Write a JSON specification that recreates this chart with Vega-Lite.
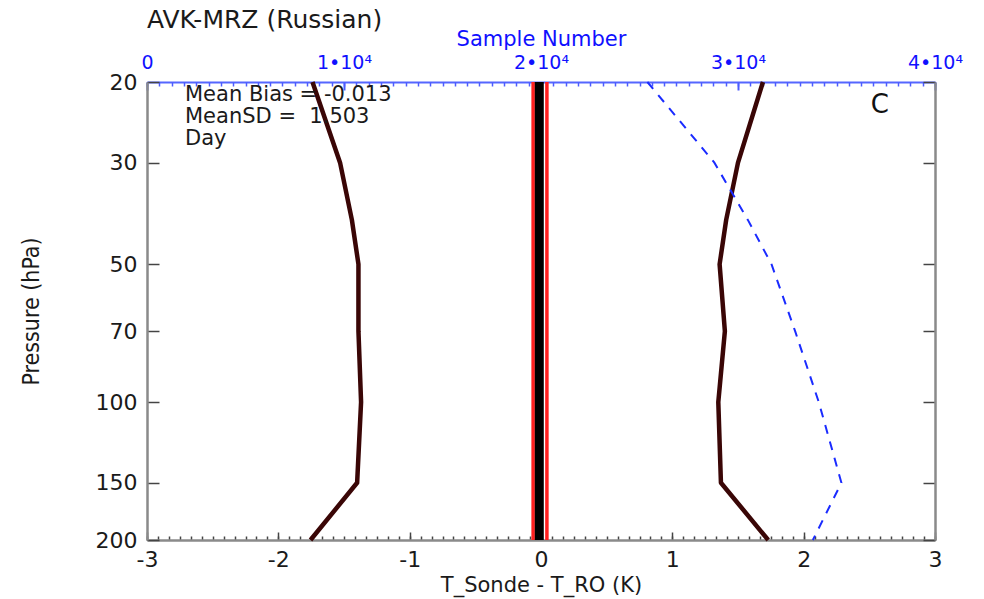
{
  "$schema": "https://vega.github.io/schema/vega-lite/v6.json",
  "width": 788,
  "height": 458,
  "autosize": {"type": "none"},
  "padding": {"left": 147, "top": 82, "right": 49, "bottom": 59},
  "background": "white",
  "title": {
    "text": "AVK-MRZ (Russian)",
    "anchor": "start",
    "frame": "group",
    "font": "DejaVu Sans",
    "fontSize": 25,
    "fontWeight": "normal",
    "color": "#1a1a1a",
    "baseline": "alphabetic",
    "offset": -25
  },
  "config": {
    "view": {"stroke": null},
    "axis": {
      "grid": false,
      "labelFont": "DejaVu Sans",
      "titleFont": "DejaVu Sans",
      "titleFontWeight": "normal",
      "labelFlush": false,
      "labelOverlap": false,
      "labelBound": false
    }
  },
  "datasets": {
    "band": [
      {"edge": "lower", "p": 20, "dT": -0.06},
      {"edge": "lower", "p": 200, "dT": -0.06},
      {"edge": "upper", "p": 20, "dT": 0.045},
      {"edge": "upper", "p": 200, "dT": 0.045}
    ],
    "mean_bias": [
      {"p": 20, "dT": -0.013},
      {"p": 200, "dT": -0.013}
    ],
    "sd": [
      {"side": "minus", "p": 20, "dT": -1.74},
      {"side": "minus", "p": 30, "dT": -1.53},
      {"side": "minus", "p": 40, "dT": -1.44},
      {"side": "minus", "p": 50, "dT": -1.39},
      {"side": "minus", "p": 70, "dT": -1.39},
      {"side": "minus", "p": 100, "dT": -1.37},
      {"side": "minus", "p": 150, "dT": -1.40},
      {"side": "minus", "p": 200, "dT": -1.755},
      {"side": "plus", "p": 20, "dT": 1.69},
      {"side": "plus", "p": 30, "dT": 1.50},
      {"side": "plus", "p": 40, "dT": 1.41},
      {"side": "plus", "p": 50, "dT": 1.36},
      {"side": "plus", "p": 70, "dT": 1.40},
      {"side": "plus", "p": 100, "dT": 1.35},
      {"side": "plus", "p": 150, "dT": 1.37},
      {"side": "plus", "p": 200, "dT": 1.73}
    ],
    "samples": [
      {"p": 20, "n": 25400},
      {"p": 30, "n": 28800},
      {"p": 40, "n": 30500},
      {"p": 50, "n": 31700},
      {"p": 70, "n": 32900},
      {"p": 100, "n": 34100},
      {"p": 150, "n": 35250},
      {"p": 200, "n": 33800}
    ]
  },
  "layer": [
    {
      "data": {"name": "band"},
      "mark": {"type": "line", "color": "#ff2020", "strokeWidth": 3.5},
      "encoding": {
        "x": {
          "field": "dT", "type": "quantitative",
          "scale": {"domain": [-3, 3], "nice": false, "zero": false},
          "axis": {
            "orient": "bottom",
            "values": [-3, -2.9167, -2.8333, -2.75, -2.6667, -2.5833, -2.5, -2.4167, -2.3333, -2.25, -2.1667, -2.0833,
                       -2, -1.9167, -1.8333, -1.75, -1.6667, -1.5833, -1.5, -1.4167, -1.3333, -1.25, -1.1667, -1.0833,
                       -1, -0.9167, -0.8333, -0.75, -0.6667, -0.5833, -0.5, -0.4167, -0.3333, -0.25, -0.1667, -0.0833,
                       0, 0.0833, 0.1667, 0.25, 0.3333, 0.4167, 0.5, 0.5833, 0.6667, 0.75, 0.8333, 0.9167,
                       1, 1.0833, 1.1667, 1.25, 1.3333, 1.4167, 1.5, 1.5833, 1.6667, 1.75, 1.8333, 1.9167,
                       2, 2.0833, 2.1667, 2.25, 2.3333, 2.4167, 2.5, 2.5833, 2.6667, 2.75, 2.8333, 2.9167, 3],
            "labels": false,
            "domain": false,
            "tickSize": -4,
            "tickColor": "#444444",
            "tickWidth": 1.5,
            "title": null
          }
        },
        "y": {
          "field": "p", "type": "quantitative",
          "scale": {"type": "log", "domain": [20, 200], "reverse": true, "nice": false},
          "axis": {
            "orient": "right",
            "values": [20, 30, 50, 70, 100, 150, 200],
            "labels": false,
            "tickSize": -12,
            "tickColor": "#444444",
            "tickWidth": 1.5,
            "domainColor": "#8a8a8a",
            "domainWidth": 2.5,
            "title": null
          }
        },
        "detail": {"field": "edge"},
        "order": {"field": "p", "type": "quantitative"}
      }
    },
    {
      "data": {"name": "mean_bias"},
      "mark": {"type": "line", "color": "#000000", "strokeWidth": 9},
      "encoding": {
        "x": {
          "field": "dT", "type": "quantitative",
          "scale": {"domain": [-3, 3], "nice": false, "zero": false},
          "axis": {
            "orient": "bottom",
            "values": [-3, -2, -1, 0, 1, 2, 3],
            "labelExpr": "'' + datum.value",
            "tickSize": -8,
            "tickColor": "#444444",
            "tickWidth": 1.5,
            "domainColor": "#8a8a8a",
            "domainWidth": 2.5,
            "labelFontSize": 22,
            "labelColor": "#1a1a1a",
            "labelPadding": 17,
            "title": "T_Sonde - T_RO (K)",
            "titleFontSize": 21,
            "titleColor": "#1a1a1a",
            "titlePadding": 4
          }
        },
        "y": {
          "field": "p", "type": "quantitative",
          "scale": {"type": "log", "domain": [20, 200], "reverse": true, "nice": false},
          "axis": {
            "orient": "left",
            "values": [20, 30, 50, 70, 100, 150, 200],
            "labelExpr": "'' + datum.value",
            "tickSize": -12,
            "tickColor": "#444444",
            "tickWidth": 1.5,
            "domainColor": "#8a8a8a",
            "domainWidth": 2.5,
            "labelFontSize": 22,
            "labelColor": "#1a1a1a",
            "labelPadding": 22,
            "title": "Pressure (hPa)",
            "titleFont": "Liberation Sans Narrow, DejaVu Sans Condensed, Roboto Condensed, Liberation Sans, sans-serif",
            "titleFontSize": 23,
            "titleColor": "#1a1a1a",
            "titlePadding": 52
          }
        },
        "order": {"field": "p", "type": "quantitative"}
      }
    },
    {
      "data": {"name": "sd"},
      "mark": {"type": "line", "color": "#3a0606", "strokeWidth": 4.5, "strokeJoin": "round"},
      "encoding": {
        "x": {
          "field": "dT", "type": "quantitative",
          "scale": {"domain": [-3, 3], "nice": false, "zero": false},
          "axis": null
        },
        "y": {
          "field": "p", "type": "quantitative",
          "scale": {"type": "log", "domain": [20, 200], "reverse": true, "nice": false},
          "axis": null
        },
        "detail": {"field": "side"},
        "order": {"field": "p", "type": "quantitative"}
      }
    },
    {
      "data": {"name": "samples"},
      "mark": {"type": "line", "color": "#1a2bff", "strokeWidth": 2, "strokeDash": [9, 8]},
      "encoding": {
        "x": {
          "field": "n", "type": "quantitative",
          "scale": {"domain": [0, 40000], "nice": false, "zero": false},
          "axis": {
            "orient": "top",
            "values": [0, 10000, 20000, 30000, 40000],
            "labelExpr": "datum.value === 0 ? '0' : (datum.value / 10000) + '•10⁴'",
            "tickSize": -8,
            "tickColor": "#4d5cff",
            "tickWidth": 2,
            "domainColor": "#5566ff",
            "domainWidth": 2,
            "labelColor": "#1010ff",
            "labelFontSize": 19,
            "labelPadding": 18,
            "title": "Sample Number",
            "titleColor": "#1010ff",
            "titleFontSize": 21,
            "titlePadding": 4
          }
        },
        "y": {
          "field": "p", "type": "quantitative",
          "scale": {"type": "log", "domain": [20, 200], "reverse": true, "nice": false},
          "axis": null
        },
        "order": {"field": "p", "type": "quantitative"}
      }
    },
    {
      "data": {"values": [{}]},
      "mark": {
        "type": "text",
        "align": "left",
        "baseline": "top",
        "lineHeight": 22,
        "font": "DejaVu Sans",
        "fontSize": 21,
        "color": "#1a1a1a"
      },
      "encoding": {
        "x": {
          "datum": 1929, "type": "quantitative",
          "scale": {"domain": [0, 40000], "nice": false, "zero": false},
          "axis": {
            "orient": "top",
            "values": [0, 625, 1250, 1875, 2500, 3125, 3750, 4375, 5000, 5625, 6250, 6875, 7500, 8125, 8750, 9375,
                       10000, 10625, 11250, 11875, 12500, 13125, 13750, 14375, 15000, 15625, 16250, 16875, 17500, 18125, 18750, 19375,
                       20000, 20625, 21250, 21875, 22500, 23125, 23750, 24375, 25000, 25625, 26250, 26875, 27500, 28125, 28750, 29375,
                       30000, 30625, 31250, 31875, 32500, 33125, 33750, 34375, 35000, 35625, 36250, 36875, 37500, 38125, 38750, 39375, 40000],
            "labels": false,
            "domain": false,
            "tickSize": -4,
            "tickColor": "#4d5cff",
            "tickWidth": 1.5,
            "title": null
          }
        },
        "y": {
          "datum": 20.2, "type": "quantitative",
          "scale": {"type": "log", "domain": [20, 200], "reverse": true, "nice": false},
          "axis": null
        },
        "text": {"value": ["Mean Bias = -0.013", "MeanSD = \u00a01.503", "Day"]}
      }
    },
    {
      "data": {"values": [{}]},
      "mark": {
        "type": "text",
        "align": "center",
        "baseline": "middle",
        "font": "DejaVu Sans",
        "fontSize": 26,
        "color": "#111111"
      },
      "encoding": {
        "x": {
          "datum": 2.58, "type": "quantitative",
          "scale": {"domain": [-3, 3], "nice": false, "zero": false},
          "axis": null
        },
        "y": {
          "datum": 22.4, "type": "quantitative",
          "scale": {"type": "log", "domain": [20, 200], "reverse": true, "nice": false},
          "axis": null
        },
        "text": {"value": "C"}
      }
    }
  ],
  "resolve": {
    "scale": {"x": "independent"},
    "axis": {"x": "independent", "y": "independent"}
  }
}
